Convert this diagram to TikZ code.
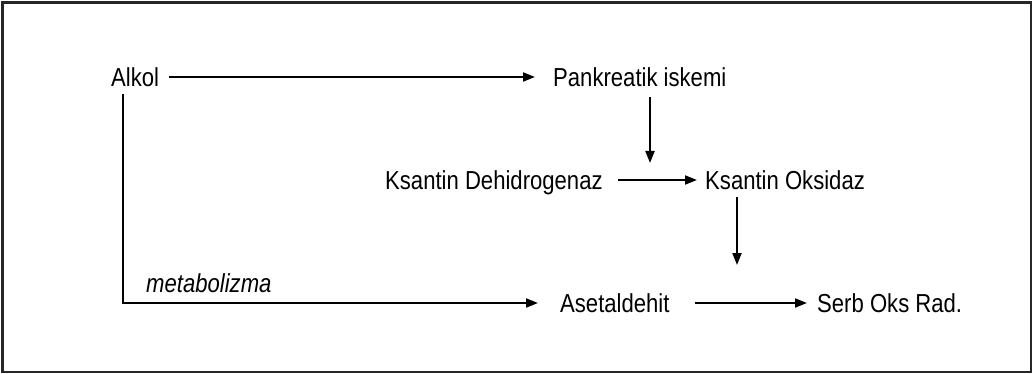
\documentclass[tikz,border=0pt]{standalone}
\usepackage{fontspec}
\setmainfont[FakeStretch=0.85]{Liberation Sans}
\usetikzlibrary{arrows.meta}
\begin{document}
\begin{tikzpicture}[x=1pt,y=-1pt,
  lbl/.style={inner sep=0pt, anchor=west, text height=18.6pt, text depth=0pt,
              font=\fontsize{26}{30}\selectfont},
  conn/.style={line width=2pt, -{Triangle[length=12pt,width=9pt]}}]
\useasboundingbox (0,0) rectangle (1033,374);
\draw[line width=2.2pt, black!85] (2.5,2.5) rectangle (1031,372);
% nodes
\node[lbl] (alkol) at (111,77) {Alkol};
\node[lbl] (pi) at (553,77) {Pankreatik iskemi};
\node[lbl] (kd) at (385,180) {Ksantin Dehidrogenaz};
\node[lbl] (ko) at (705,180) {Ksantin Oksidaz};
\node[lbl] (as) at (560,303) {Asetaldehit};
\node[lbl] (sor) at (817,303) {Serb Oks Rad.};
\node[inner sep=0pt, anchor=base west, font=\fontsize{26}{30}\selectfont\itshape] (met) at (146,292) {metabolizma};
% coordinates
\coordinate (m) at (650,180);
\coordinate (n) at (737,303);
\coordinate (c) at (123,303);
% connectors
\draw[conn, shorten <=10pt, shorten >=18pt] (alkol.east) -- (pi.west);
\draw[conn, shorten <=11pt, shorten >=17pt] (pi.south -| m) -- (m);
\draw[conn, shorten <=15pt, shorten >=8pt] (kd.east) -- (ko.west);
\draw[conn, shorten <=8pt, shorten >=38pt] (ko.south -| n) -- (n);
\draw[conn, shorten <=8pt, shorten >=22pt] (alkol.south -| c) -- (c) -- (as.west);
\draw[conn, shorten <=25pt, shorten >=10pt] (as.east) -- (sor.west);
\end{tikzpicture}
\end{document}
